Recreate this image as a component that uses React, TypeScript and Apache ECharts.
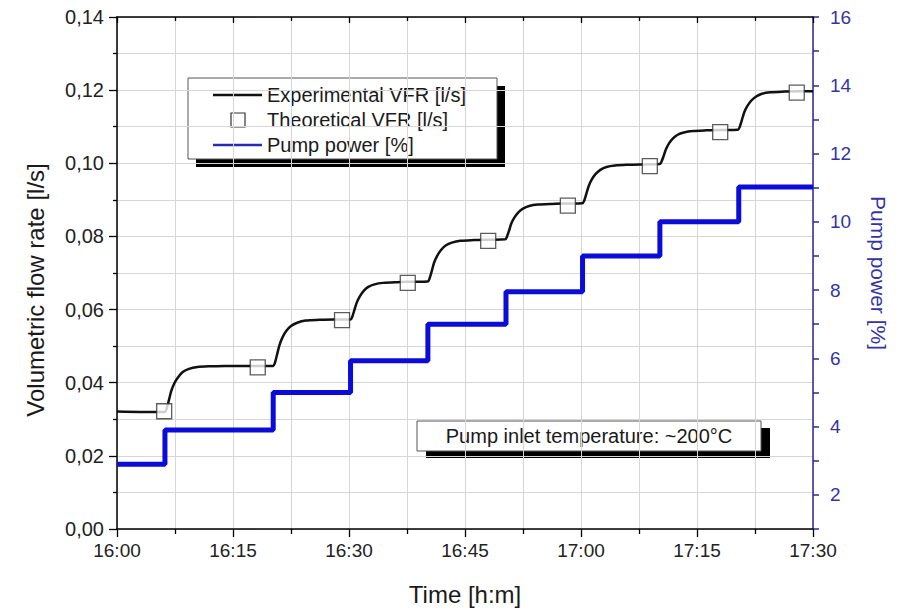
import React, { useEffect, useRef } from "react";
import * as echarts from "echarts";

// Time in minutes after 16:00
const xTickMinutes = [0, 15, 30, 45, 60, 75, 90];

// Experimental volumetric flow rate [l/s]
const expTime = [
  0, 3, 6.2,
  6.4, 6.7, 7.0, 7.4, 7.9, 8.5, 9.3, 10.4, 12.2, 14, 17, 20.2,
  20.4, 20.7, 21.0, 21.4, 21.9, 22.5, 23.3, 24.4, 26.2, 28, 30.2,
  30.4, 30.7, 31.0, 31.4, 31.9, 32.5, 33.3, 34.4, 36.2, 38, 40.2,
  40.4, 40.7, 41.0, 41.4, 41.9, 42.5, 43.3, 44.4, 46.2, 48, 50.2,
  50.4, 50.7, 51.0, 51.4, 51.9, 52.5, 53.3, 54.4, 56.2, 58, 60.2,
  60.4, 60.7, 61.0, 61.4, 61.9, 62.5, 63.3, 64.4, 66.2, 68, 70.2,
  70.4, 70.7, 71.0, 71.4, 71.9, 72.5, 73.3, 74.4, 76.2, 78, 80.3,
  80.5, 80.8, 81.1, 81.5, 82.0, 82.6, 83.4, 84.5, 86.3, 88, 90,
];
const expVFR = [
  0.0321, 0.0320, 0.0320,
  0.0328, 0.0351, 0.0376, 0.0398, 0.0415, 0.0429, 0.0438, 0.0443, 0.0445, 0.0446, 0.0446, 0.0446,
  0.0453, 0.0477, 0.0502, 0.0524, 0.0542, 0.0555, 0.0564, 0.0570, 0.0572, 0.0573, 0.0573,
  0.0579, 0.0599, 0.0619, 0.0636, 0.0651, 0.0662, 0.0669, 0.0673, 0.0675, 0.0676, 0.0677,
  0.0684, 0.0705, 0.0728, 0.0747, 0.0763, 0.0775, 0.0783, 0.0788, 0.0790, 0.0791, 0.0792,
  0.0798, 0.0816, 0.0836, 0.0852, 0.0866, 0.0876, 0.0883, 0.0887, 0.0889, 0.0890, 0.0891,
  0.0897, 0.0917, 0.0938, 0.0956, 0.0971, 0.0982, 0.0990, 0.0994, 0.0996, 0.0997, 0.0998,
  0.1004, 0.1021, 0.1039, 0.1055, 0.1068, 0.1078, 0.1084, 0.1088, 0.1090, 0.1091, 0.1092,
  0.1098, 0.1118, 0.1139, 0.1156, 0.1171, 0.1182, 0.1190, 0.1194, 0.1196, 0.1197, 0.1197,
];

// Theoretical VFR [l/s]
const theoTime = [6.1, 18.2, 29.1, 37.6, 48.0, 58.3, 68.9, 78.0, 87.9];
const theoVFR = [0.0322, 0.0442, 0.0571, 0.0673, 0.0788, 0.0884, 0.0992, 0.1085, 0.1193];

// Pump power [%] — level held from each time to the next
const pumpTime = [0, 6.2, 20.2, 30.2, 40.2, 50.3, 60.2, 70.2, 80.4, 90];
const pumpPower = [2.9, 3.9, 5.0, 5.93, 7.0, 7.95, 9.0, 10.0, 11.02, 11.02];

const rightLabelValues = [2, 4, 6, 8, 10, 12, 14, 16];

const FONT = "'Liberation Sans', Arial, sans-serif";
const NAVY = "#2b2b98";
const NAVY_TEXT = "#3434a4";
const BLUE = "#0c0cd8";
const GRID = "#d6d6d6";

function fmtTime(m: number) {
  const h = 16 + Math.floor(m / 60);
  const mm = Math.round(m % 60);
  return `${h}:${mm < 10 ? "0" + mm : mm}`;
}

export default function App() {
  const ref = useRef<HTMLDivElement>(null);

  useEffect(() => {
    if (!ref.current) return;
    const chart = echarts.init(ref.current, undefined, { renderer: "svg" });

    const expData = expTime.map((t, i) => [t, expVFR[i]]);
    const theoData = theoTime.map((t, i) => [t, theoVFR[i]]);
    const pumpData = pumpTime.map((t, i) => [t, pumpPower[i]]);

    const legendRows = [
      { y: 95, kind: "line", color: "#111", text: "Experimental VFR [l/s]" },
      { y: 120, kind: "square", color: "#333", text: "Theoretical VFR [l/s]" },
      { y: 145, kind: "line", color: "#2a2ab0", text: "Pump power [%]" },
    ];

    const legendChildren: any[] = [
      { type: "rect", shape: { x: 196, y: 86, width: 309, height: 81 }, style: { fill: "#000" } },
      { type: "rect", shape: { x: 188, y: 78, width: 309, height: 81 }, style: { fill: "#fff", stroke: "#555", lineWidth: 1 } },
    ];
    legendRows.forEach((r) => {
      if (r.kind === "line") {
        legendChildren.push({
          type: "line",
          shape: { x1: 213, y1: r.y, x2: 262, y2: r.y },
          style: { stroke: r.color, lineWidth: 2.5 },
        });
      } else {
        legendChildren.push({
          type: "rect",
          shape: { x: 231, y: r.y - 7, width: 14, height: 14 },
          style: { fill: "#fff", stroke: r.color, lineWidth: 1.2 },
        });
      }
      legendChildren.push({
        type: "text",
        x: 267,
        y: r.y,
        style: { text: r.text, font: `20px ${FONT}`, fill: "#1a1a1a", verticalAlign: "middle", align: "left" },
      });
    });

    const noteChildren: any[] = [
      { type: "rect", shape: { x: 426, y: 428, width: 344, height: 30 }, style: { fill: "#000" } },
      { type: "rect", shape: { x: 417, y: 421, width: 344, height: 30 }, style: { fill: "#fff", stroke: "#555", lineWidth: 1 } },
      {
        type: "text",
        x: 589,
        y: 436,
        style: { text: "Pump inlet temperature: ~200°C", font: `20px ${FONT}`, fill: "#1a1a1a", align: "center", verticalAlign: "middle" },
      },
    ];

    chart.setOption({
      animation: false,
      backgroundColor: "#fff",
      textStyle: { fontFamily: FONT },
      grid: { left: 117, right: 91, top: 17, bottom: 83, containLabel: false },
      xAxis: [
        {
          type: "value",
          min: 0,
          max: 90,
          interval: 15,
          position: "bottom",
          name: "Time [h:m]",
          nameLocation: "middle",
          nameGap: 53,
          nameTextStyle: { fontSize: 24, color: "#1a1a1a", fontFamily: FONT },
          axisLine: { show: true, onZero: false, lineStyle: { color: "#000", width: 1.5 } },
          axisTick: { show: true, inside: false, length: 8, lineStyle: { color: "#000", width: 1.3 } },
          minorTick: { show: true, splitNumber: 2, length: 5, lineStyle: { color: "#000", width: 1.3 } },
          axisLabel: {
            show: true,
            fontSize: 19,
            color: "#222",
            margin: 12,
            formatter: (v: number) => (xTickMinutes.includes(v) ? fmtTime(v) : ""),
          },
          splitLine: { show: true, lineStyle: { color: GRID, width: 1 } },
          minorSplitLine: { show: true, lineStyle: { color: GRID, width: 1 } },
        },
        {
          type: "value",
          min: 0,
          max: 90,
          interval: 15,
          position: "top",
          axisLine: { show: true, onZero: false, lineStyle: { color: "#000", width: 1.5 } },
          axisTick: { show: true, inside: true, length: 6, lineStyle: { color: "#000", width: 1.3 } },
          minorTick: { show: true, splitNumber: 2, length: 4, lineStyle: { color: "#000", width: 1.3 } },
          axisLabel: { show: false },
          splitLine: { show: false },
        },
      ],
      yAxis: [
        {
          type: "value",
          min: 0,
          max: 0.14,
          interval: 0.02,
          position: "left",
          name: "Volumetric flow rate [l/s]",
          nameLocation: "middle",
          nameGap: 70,
          nameTextStyle: { fontSize: 24, color: "#1a1a1a", fontFamily: FONT, padding: [0, 34, 0, 0] },
          axisLine: { show: true, onZero: false, lineStyle: { color: "#000", width: 1.5 } },
          axisTick: { show: true, inside: false, length: 8, lineStyle: { color: "#000", width: 1.3 } },
          minorTick: { show: true, splitNumber: 2, length: 4, lineStyle: { color: "#000", width: 1.3 } },
          axisLabel: {
            fontSize: 20,
            color: "#222",
            margin: 13,
            formatter: (v: number) => v.toFixed(2).replace(".", ","),
          },
          splitLine: { show: true, lineStyle: { color: GRID, width: 1 } },
          minorSplitLine: { show: true, lineStyle: { color: GRID, width: 1 } },
        },
        {
          type: "value",
          min: 1,
          max: 16,
          interval: 1,
          position: "right",
          name: "Pump power [%]",
          nameLocation: "middle",
          nameRotate: -90,
          nameGap: 55,
          nameTextStyle: { fontSize: 21, color: NAVY_TEXT, fontFamily: FONT },
          axisLine: { show: true, onZero: false, lineStyle: { color: NAVY, width: 1.5 } },
          axisTick: { show: true, inside: false, length: 6, lineStyle: { color: NAVY, width: 1.5 } },
          axisLabel: { fontSize: 19, color: NAVY_TEXT, margin: 17, customValues: rightLabelValues },
          splitLine: { show: false },
        },
      ],
      series: [
        {
          name: "Pump power [%]",
          type: "line",
          xAxisIndex: 0,
          yAxisIndex: 1,
          step: "end",
          data: pumpData,
          showSymbol: false,
          lineStyle: { color: BLUE, width: 5 },
          z: 2,
        },
        {
          name: "Experimental VFR [l/s]",
          type: "line",
          xAxisIndex: 0,
          yAxisIndex: 0,
          smooth: 0.3,
          data: expData,
          showSymbol: false,
          lineStyle: { color: "#111", width: 2.5 },
          z: 3,
        },
        {
          name: "Theoretical VFR [l/s]",
          type: "scatter",
          xAxisIndex: 0,
          yAxisIndex: 0,
          data: theoData,
          symbol: "rect",
          symbolSize: 15,
          itemStyle: { color: "#fff", borderColor: "#333", borderWidth: 1.3 },
          z: 4,
        },
      ],
      graphic: [
        { type: "group", z: 100, children: legendChildren },
        { type: "group", z: 100, children: noteChildren },
      ],
    });

    return () => chart.dispose();
  }, []);

  return <div ref={ref} style={{ width: 904, height: 612, position: "absolute", left: 0, top: 0 }} />;
}
